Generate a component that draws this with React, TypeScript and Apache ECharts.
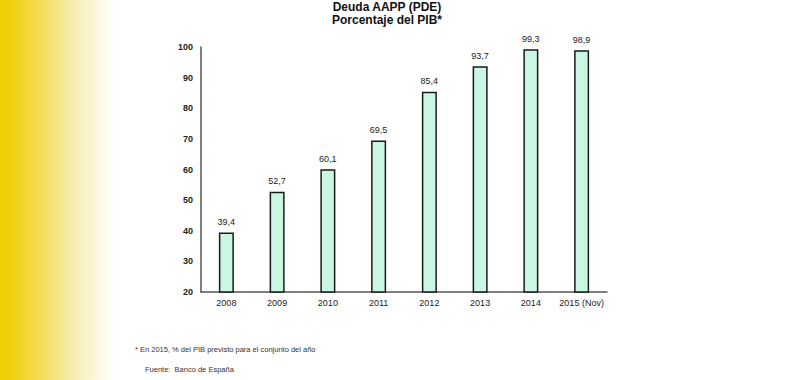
import React, { useEffect, useRef } from "react";
import * as echarts from "echarts";

const categories = ["2008", "2009", "2010", "2011", "2012", "2013", "2014", "2015 (Nov)"];
const deuda = [39.4, 52.7, 60.1, 69.5, 85.4, 93.7, 99.3, 98.9];
const titleLines = ["Deuda AAPP (PDE)", "Porcentaje del PIB*"];
const footnote = "* En 2015, % del PIB previsto para el conjunto del año";
const source = "Fuente:  Banco de España";

export default function App() {
  const ref = useRef<HTMLDivElement>(null);
  useEffect(() => {
    document.body.style.margin = "0";
    const chart = echarts.init(ref.current!, null, { renderer: "svg" });
    chart.setOption({
      animation: false,
      backgroundColor: "#ffffff",
      textStyle: { fontFamily: "Liberation Sans, Arial, sans-serif" },
      graphic: [
        {
          type: "rect",
          left: 0,
          top: 0,
          shape: { width: 115, height: 380 },
          style: {
            fill: new echarts.graphic.LinearGradient(0, 0, 1, 0, [
              { offset: 0, color: "#efcf00" },
              { offset: 0.08, color: "#efd00a" },
              { offset: 0.35, color: "#f3dc55" },
              { offset: 0.65, color: "#f9edb5" },
              { offset: 1, color: "#ffffff" },
            ]),
          },
          z: -10,
        },
        {
          type: "text",
          x: 387,
          y: 7,
          style: {
            text: titleLines[0],
            fontSize: 12,
            fontWeight: "bold",
            fill: "#111",
            textAlign: "center",
            textVerticalAlign: "middle",
            fontFamily: "Liberation Sans, Arial, sans-serif",
          },
        },
        {
          type: "text",
          x: 387,
          y: 20,
          style: {
            text: titleLines[1],
            fontSize: 12,
            fontWeight: "bold",
            fill: "#111",
            textAlign: "center",
            textVerticalAlign: "middle",
            fontFamily: "Liberation Sans, Arial, sans-serif",
          },
        },
        {
          type: "text",
          x: 135,
          y: 349,
          style: {
            text: footnote,
            fontSize: 7.5,
            fill: "#333",
            textVerticalAlign: "middle",
            fontFamily: "Liberation Sans, Arial, sans-serif",
          },
        },
        {
          type: "text",
          x: 145,
          y: 369,
          style: {
            text: source,
            fontSize: 7.5,
            fill: "#333",
            textVerticalAlign: "middle",
            fontFamily: "Liberation Sans, Arial, sans-serif",
          },
        },
      ],
      grid: { left: 201, right: 193, top: 47, height: 245 },
      xAxis: {
        type: "category",
        data: categories,
        axisLine: { show: true, lineStyle: { color: "#555", width: 1.5 } },
        axisTick: { show: false },
        axisLabel: { color: "#222", fontSize: 9, margin: 6, interval: 0 },
      },
      yAxis: {
        type: "value",
        min: 20,
        max: 100,
        interval: 10,
        splitLine: { show: false },
        axisLine: { show: true, lineStyle: { color: "#555", width: 1.5 } },
        axisTick: { show: false },
        axisLabel: { color: "#222", fontSize: 9, fontWeight: "bold", margin: 8 },
      },
      series: [
        {
          type: "bar",
          data: deuda,
          barWidth: 15,
          itemStyle: { color: "#c9f7e2", borderColor: "#1a1a1a", borderWidth: 1.5 },
          label: {
            show: true,
            position: "top",
            distance: 6,
            color: "#222",
            fontSize: 9,
            formatter: (p: any) => String(p.value).replace(".", ","),
          },
        },
      ],
    });
    return () => chart.dispose();
  }, []);
  return <div ref={ref} style={{ position: "absolute", left: 0, top: 0, width: 800, height: 380 }} />;
}
